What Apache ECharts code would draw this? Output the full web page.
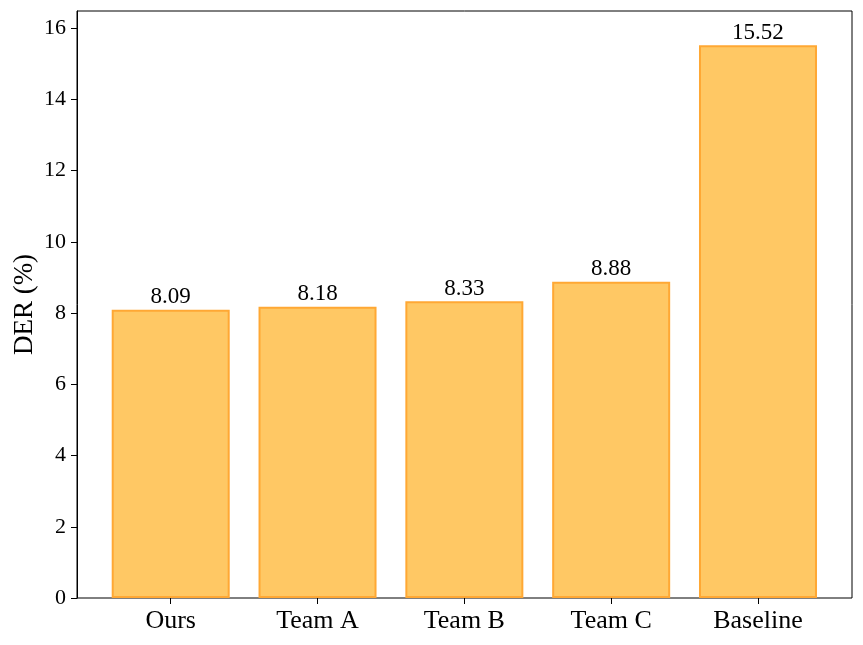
<!DOCTYPE html>
<html><head><meta charset="utf-8">
<script src="https://cdn.jsdelivr.net/npm/echarts@6/dist/echarts.min.js"></script>
<style>html,body{margin:0;padding:0;background:#fff}#c{width:863px;height:645px}</style>
</head><body><div id="c"></div>
<script>
const categories = ['Ours', 'Team A', 'Team B', 'Team C', 'Baseline'];
const derValues = [8.09, 8.18, 8.33, 8.88, 15.52];
const yTicks = [0, 2, 4, 6, 8, 10, 12, 14, 16];

const FONT = 'Liberation Serif';
const chart = echarts.init(document.getElementById('c'), null, {renderer: 'canvas'});
const yMax = 16.48;
chart.setOption({
  animation: false,
  backgroundColor: '#fff',
  grid: [
    {left: 77, right: 11, top: 11, bottom: 47, containLabel: false, outerBoundsMode: 'none',
     show: true, borderColor: '#000', borderWidth: 1, backgroundColor: 'transparent'},
    {left: 97.3, right: 31.6, top: 11, bottom: 47, containLabel: false, outerBoundsMode: 'none'}
  ],
  xAxis: [
    {gridIndex: 0, type: 'value', show: false, min: 0, max: 1},
    {gridIndex: 1, type: 'category', data: categories,
     axisLine: {show: false},
     axisTick: {show: true, alignWithLabel: true, length: 6, lineStyle: {color: '#000', width: 1}},
     axisLabel: {color: '#000', fontFamily: FONT, fontSize: 26, margin: 10}}
  ],
  yAxis: [
    {gridIndex: 0, type: 'value', min: 0, max: yMax, interval: 2,
     name: 'DER (%)', nameLocation: 'middle', nameGap: 39, nameMoveOverlap: false,
     nameTextStyle: {color: '#000', fontFamily: FONT, fontSize: 27},
     axisLine: {show: true, lineStyle: {color: '#000', width: 1}},
     axisTick: {show: true, length: 6, lineStyle: {color: '#000', width: 1}},
     axisLabel: {color: '#000', fontFamily: FONT, fontSize: 22, margin: 11,
       showMaxLabel: false,
       formatter: v => yTicks.includes(v) ? String(v) : ''},
     splitLine: {show: false}},
    {gridIndex: 1, type: 'value', min: 0, max: yMax, show: false, splitLine: {show: false}}
  ],
  series: [{
    type: 'bar', xAxisIndex: 1, yAxisIndex: 1,
    data: derValues,
    barWidth: 118,
    itemStyle: {color: 'rgba(255,200,100,1)', borderColor: '#FFA834', borderWidth: 2},
    label: {show: true, position: 'top', distance: 1, color: '#000', fontFamily: FONT, fontSize: 23,
      formatter: p => p.value.toFixed(2)}
  }]
});
</script></body></html>
